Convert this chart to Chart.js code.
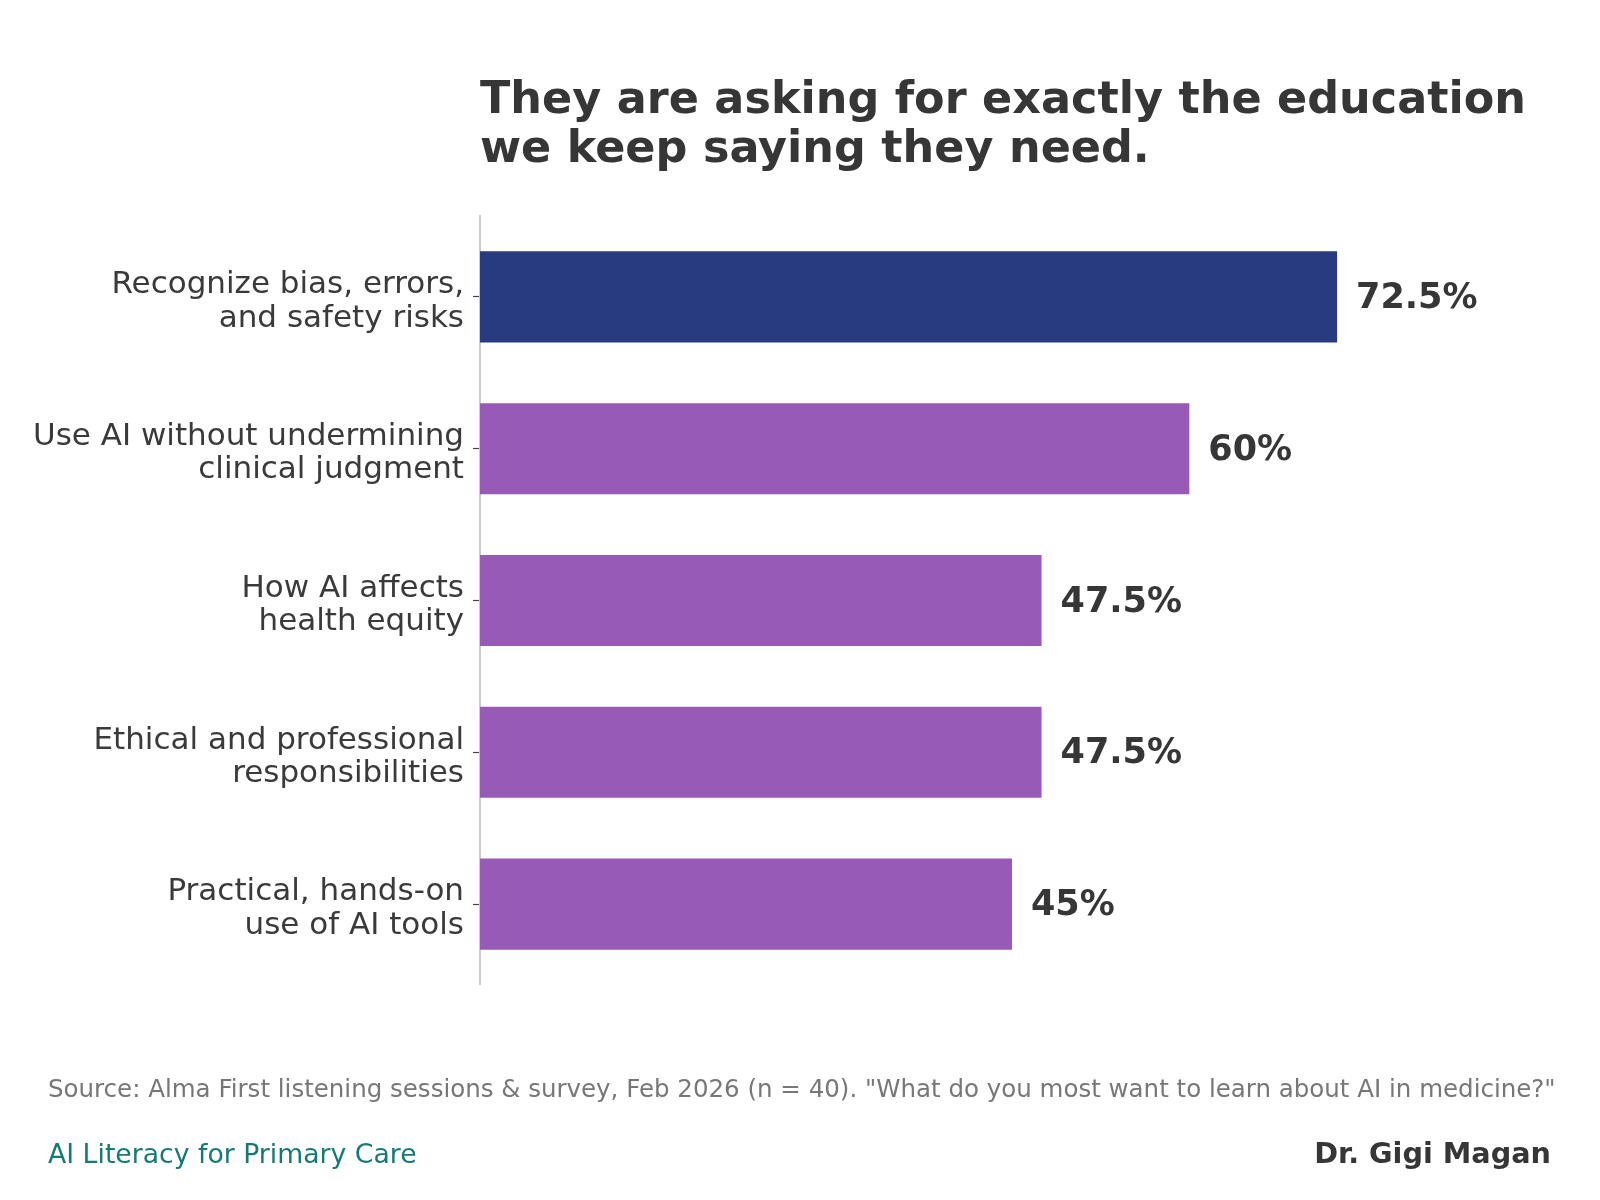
<!DOCTYPE html>
<html lang="en">
<head>
    <meta charset="UTF-8">
    <title>AI education wishes</title>
    <script src="https://cdn.jsdelivr.net/npm/chart.js"></script>
    <style>
        html, body { margin: 0; padding: 0; background: #ffffff; }
        canvas { display: block; }
    </style>
</head>
<body>
    <canvas id="myChart" width="1600" height="1200"></canvas>

    <script>
        // Data
        const topics = [
            ['Recognize bias, errors,', 'and safety risks'],
            ['Use AI without undermining', 'clinical judgment'],
            ['How AI affects', 'health equity'],
            ['Ethical and professional', 'responsibilities'],
            ['Practical, hands-on', 'use of AI tools']
        ];
        const percentWanting = [72.5, 60, 47.5, 47.5, 45];

        const titleLines = ['They are asking for exactly the education', 'we keep saying they need.'];
        const sourceNote = 'Source: Alma First listening sessions & survey, Feb 2026 (n = 40). "What do you most want to learn about AI in medicine?"';
        const seriesName = 'AI Literacy for Primary Care';
        const authorName = 'Dr. Gigi Magan';

        const FONT = '"DejaVu Sans", "Liberation Sans", sans-serif';
        const NAVY = '#283a80';
        const PURPLE = '#975ab6';

        // thin grey axis line, a bit longer than the category band
        const axisLine = {
            id: 'axisLine',
            beforeDatasetsDraw(chart) {
                const { ctx, chartArea } = chart;
                ctx.save();
                ctx.strokeStyle = '#cccccc';
                ctx.lineWidth = 2;
                ctx.beginPath();
                ctx.moveTo(chartArea.left, chartArea.top - 6);
                ctx.lineTo(chartArea.left, chartArea.bottom + 5);
                ctx.stroke();
                ctx.restore();
            }
        };

        // percentage next to each bar
        const valueLabels = {
            id: 'valueLabels',
            afterDatasetsDraw(chart) {
                const { ctx } = chart;
                const meta = chart.getDatasetMeta(0);
                ctx.save();
                ctx.font = 'bold 35px ' + FONT;
                ctx.fillStyle = '#363636';
                ctx.textAlign = 'left';
                ctx.textBaseline = 'alphabetic';
                meta.data.forEach((bar, i) => {
                    ctx.fillText(percentWanting[i] + '%', bar.x + 19, bar.y + 11);
                });
                ctx.restore();
            }
        };

        // title and footer texts
        const texts = {
            id: 'texts',
            afterDraw(chart) {
                const { ctx, chartArea } = chart;
                ctx.save();
                ctx.textBaseline = 'alphabetic';
                ctx.textAlign = 'left';
                ctx.fillStyle = '#363636';
                ctx.font = 'bold 44.5px ' + FONT;
                ctx.fillText(titleLines[0], chartArea.left, 113);
                ctx.fillText(titleLines[1], chartArea.left, 162);

                ctx.font = '24.5px ' + FONT;
                ctx.fillStyle = '#777777';
                ctx.fillText(sourceNote, 48, 1097);

                ctx.font = '26.7px ' + FONT;
                ctx.fillStyle = '#167a74';
                ctx.fillText(seriesName, 48, 1163);

                ctx.font = 'bold 28.7px ' + FONT;
                ctx.fillStyle = '#363636';
                ctx.textAlign = 'right';
                ctx.fillText(authorName, 1551, 1163);
                ctx.restore();
            }
        };

        const ctx = document.getElementById('myChart').getContext('2d');
        const chart = new Chart(ctx, {
            type: 'bar',
            data: {
                labels: topics,
                datasets: [{
                    data: percentWanting,
                    backgroundColor: (c) => c.dataIndex === 0 ? NAVY : PURPLE,
                    borderWidth: 0,
                    categoryPercentage: 1.0,
                    barPercentage: 0.6
                }]
            },
            options: {
                indexAxis: 'y',
                responsive: false,
                devicePixelRatio: 1,
                animation: false,
                layout: {
                    padding: { top: 221, bottom: 220, left: 0, right: 56 }
                },
                plugins: {
                    legend: { display: false },
                    tooltip: { enabled: false },
                    title: { display: false }
                },
                scales: {
                    x: {
                        display: false,
                        min: 0,
                        max: 90
                    },
                    y: {
                        afterFit: (scale) => { scale.width = 480; },
                        border: { display: false },
                        grid: {
                            drawOnChartArea: false,
                            offset: false,
                            tickLength: 7,
                            tickColor: '#444444',
                            tickWidth: 1.2
                        },
                        ticks: {
                            color: '#3a3a3a',
                            padding: 9,
                            labelOffset: 5,
                            font: { family: FONT, size: 31, lineHeight: 1.08 }
                        }
                    }
                }
            },
            plugins: [axisLine, valueLabels, texts]
        });
    </script>
</body>
</html>
